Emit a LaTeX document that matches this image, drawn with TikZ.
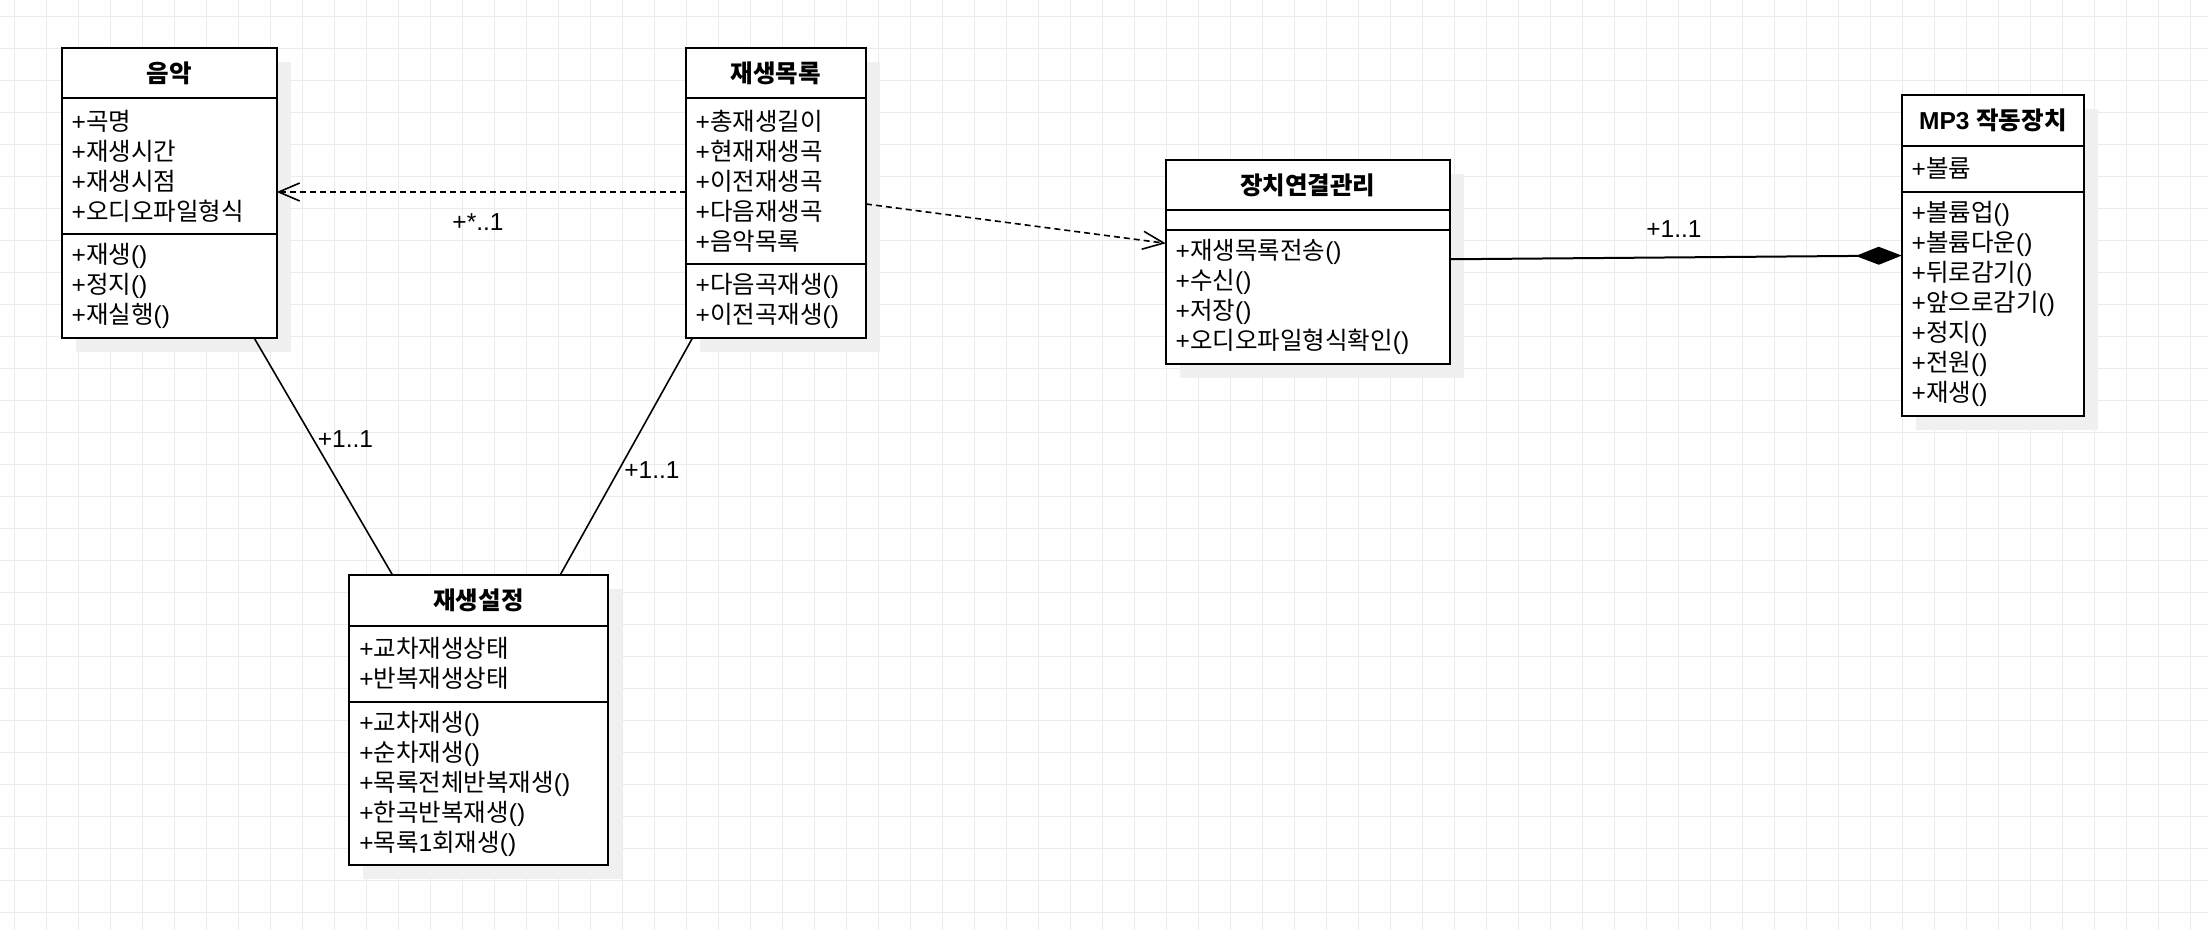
\documentclass[tikz,border=0pt]{standalone}
\usepackage{fontspec}
\setmainfont{Liberation Sans}
\newfontfamily\krfont{Noto Sans CJK KR}
% Hangul syllables switch to the Korean font
\XeTeXinterchartokenstate=1
\newXeTeXintercharclass\hangulclass
\newcount\hanguli
\hanguli="AC00
\loop\ifnum\hanguli<"D7A4
  \XeTeXcharclass\hanguli=\hangulclass
  \advance\hanguli by 1
\repeat
\XeTeXinterchartoks 0 \hangulclass = {\begingroup\krfont}
\XeTeXinterchartoks 4095 \hangulclass = {\begingroup\krfont}
\XeTeXinterchartoks \hangulclass 0 = {\endgroup}
\XeTeXinterchartoks \hangulclass 4095 = {\endgroup}
\usetikzlibrary{arrows.meta, positioning, backgrounds}
\pgfdeclarelayer{gridlayer}
\pgfsetlayers{gridlayer,background,main}

\tikzset{
  classhead/.style={draw, line width=2pt, fill=white, outer sep=0pt, inner sep=0pt,
    minimum height=50.3pt, font=\fontsize{24.5}{30}\selectfont\bfseries},
  members/.style={draw, line width=2pt, fill=white, outer sep=0pt, inner xsep=10pt,
    inner ysep=0pt, align=left, font=\fontsize{24.5}{30}\selectfont},
  boxshadow/.style={fill=black!6},
  gridline/.style={black!8, line width=1pt},
  dep/.style={line width=1.6pt, dash pattern=on 6pt off 4pt, -{Straight Barb[length=21pt,width=18pt]}},
  assoc/.style={line width=1.6pt},
  compose/.style={line width=2pt, -{Diamond[length=46pt,width=18pt]}},
  mult/.style={font=\fontsize{24.5}{30}\selectfont, inner sep=0pt}
}

\begin{document}
\begin{tikzpicture}[x=1pt, y=-1pt]
\useasboundingbox (0,0) rectangle (2208,930);

% Background grid
\begin{pgfonlayer}{gridlayer}
\fill[white] (0,0) rectangle (2208,930);
\foreach \gx in {0,...,68} {
    \draw[gridline] (14.3+32*\gx,0) -- (14.3+32*\gx,930);
}
\foreach \gy in {0,...,28} {
    \draw[gridline] (0,16+32*\gy) -- (2208,16+32*\gy);
}
\end{pgfonlayer}

% 음악
\node[classhead, minimum width=215pt, anchor=north west] (music-h) at (61.7,47.7) {음악};
\node[members, text width=195pt, minimum height=136pt, below=0pt of music-h] (music-a) {+곡명\\+재생시간\\+재생시점\\+오디오파일형식};
\node[members, text width=195pt, minimum height=103.7pt, below=0pt of music-a] (music-m) {+재생()\\+정지()\\+재실행()};

% 재생목록
\node[classhead, minimum width=180.3pt, anchor=north west] (list-h) at (685.7,47.7) {재생목록};
\node[members, text width=160.3pt, minimum height=166pt, below=0pt of list-h] (list-a) {+총재생길이\\+현재재생곡\\+이전재생곡\\+다음재생곡\\+음악목록};
\node[members, text width=160.3pt, minimum height=73.7pt, below=0pt of list-a] (list-m) {+다음곡재생()\\+이전곡재생()};

% 장치연결관리
\node[classhead, minimum width=284.3pt, anchor=north west] (device-h) at (1165.7,159.7) {장치연결관리};
\node[members, text width=264.3pt, minimum height=19.7pt, below=0pt of device-h] (device-a) {};
\node[members, text width=264.3pt, minimum height=134.3pt, below=0pt of device-a] (device-m) {+재생목록전송()\\+수신()\\+저장()\\+오디오파일형식확인()};

% MP3 작동장치
\node[classhead, minimum width=182.3pt, anchor=north west] (mp3-h) at (1901.7,95.3) {MP3 작동장치};
\node[members, text width=162.3pt, minimum height=46pt, below=0pt of mp3-h] (mp3-a) {+볼륨};
\node[members, text width=162.3pt, minimum height=224.3pt, below=0pt of mp3-a] (mp3-m) {+볼륨업()\\+볼륨다운()\\+뒤로감기()\\+앞으로감기()\\+정지()\\+전원()\\+재생()};

% 재생설정
\node[classhead, minimum width=258.4pt, anchor=north west] (settings-h) at (349.3,575.3) {재생설정};
\node[members, text width=238.4pt, minimum height=76pt, below=0pt of settings-h] (settings-a) {+교차재생상태\\+반복재생상태};
\node[members, text width=238.4pt, minimum height=163.6pt, below=0pt of settings-a] (settings-m) {+교차재생()\\+순차재생()\\+목록전체반복재생()\\+한곡반복재생()\\+목록1회재생()};

% Shadows
\begin{scope}[on background layer]
\foreach \c in {music,list,device,mp3,settings} {
    \fill[boxshadow] ([shift={(14,14)}]\c-h.north west) rectangle ([shift={(14,14)}]\c-m.south east);
}
\end{scope}

% Connectors
\coordinate (d1) at ([yshift=-11pt]list-a.west);
\draw[dep] (d1) -- (d1 -| music-a.east);
\draw[dep] ([yshift=-23pt]list-a.east) -- ([yshift=-13.6pt]device-m.north west);
\draw[compose] ([yshift=37.6pt]device-m.east) -- ([yshift=48.2pt]mp3-m.west);
\draw[assoc] ([xshift=84.8pt]music-m.south) -- ([xshift=-85.8pt]settings-h.north);
\draw[assoc] ([xshift=-83.2pt]list-m.south) -- ([xshift=81.5pt]settings-h.north);

% Multiplicities
\node[mult] (m-dep) at (478,222) {+*..1};
\node[mult] (m-music) at (345.5,439) {+1..1};
\node[mult] (m-list) at (652,470) {+1..1};
\node[mult] (m-mp3) at (1674,229) {+1..1};
\end{tikzpicture}
\end{document}
